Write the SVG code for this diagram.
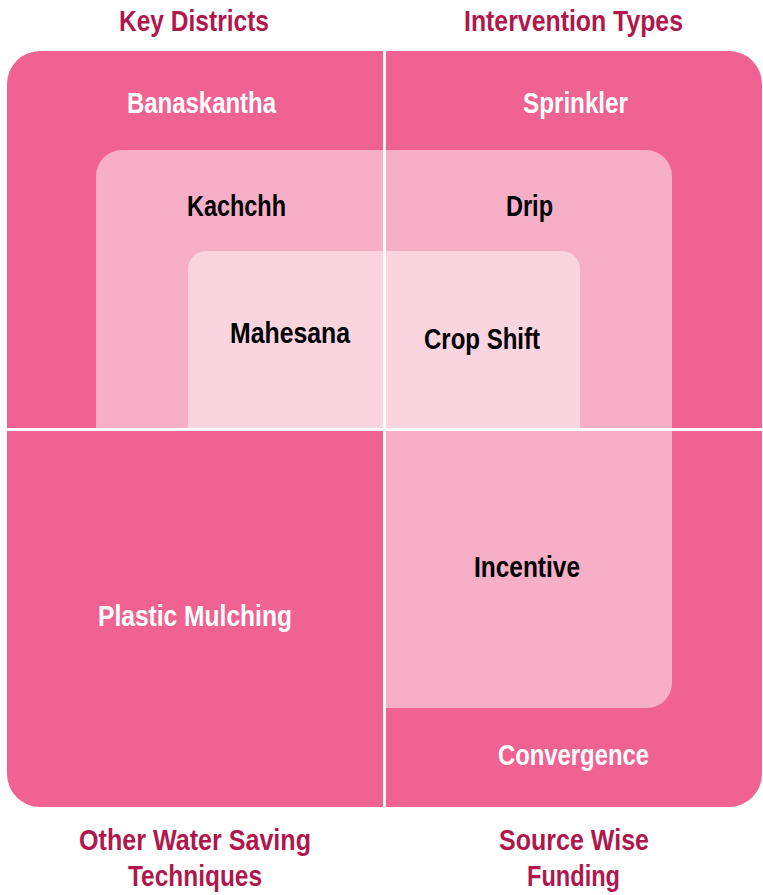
<svg xmlns="http://www.w3.org/2000/svg" width="763" height="895" viewBox="0 0 763 895">
  <style>
    text { font-family: "Liberation Sans", Arial, sans-serif; font-weight: bold; text-anchor: middle; }
    .title { fill: #b0174d; font-size: 30px; }
    .w { fill: #ffffff; font-size: 29px; }
    .b { fill: #000000; font-size: 29px; }
    .outer { fill: #f06292; }
    .mid { fill: #f7aec7; }
    .inner { fill: #fad5e0; }
    .div { stroke: #ffffff; stroke-width: 3; fill: none; }
  </style>
  <rect width="763" height="895" fill="#ffffff"/>
  <g id="outer-region">
    <rect class="outer" x="7" y="51" width="755" height="756" rx="33" ry="33"/>
  </g>
  <g id="middle-region">
    <path class="mid" d="M96,429 V176 A26,26 0 0 1 122,150 H646 A26,26 0 0 1 672,176 V683 A25,25 0 0 1 647,708 H384 V429 Z"/>
  </g>
  <g id="inner-region">
    <path class="inner" d="M188,429 V269 A18,18 0 0 1 206,251 H562 A18,18 0 0 1 580,269 V429 Z"/>
  </g>
  <g id="connectors">
    <line class="div" x1="384.5" y1="51" x2="384.5" y2="807"/>
    <line class="div" x1="7" y1="429.5" x2="762" y2="429.5"/>
  </g>
  <g id="titles">
    <text class="title" x="194" y="31" textLength="150" lengthAdjust="spacingAndGlyphs">Key Districts</text>
    <text class="title" x="573.5" y="31" textLength="219" lengthAdjust="spacingAndGlyphs">Intervention Types</text>
    <text class="title" x="195" y="850" textLength="232" lengthAdjust="spacingAndGlyphs">Other Water Saving</text>
    <text class="title" x="195" y="886" textLength="134" lengthAdjust="spacingAndGlyphs">Techniques</text>
    <text class="title" x="574" y="850" textLength="150" lengthAdjust="spacingAndGlyphs">Source Wise</text>
    <text class="title" x="573.5" y="886" textLength="93" lengthAdjust="spacingAndGlyphs">Funding</text>
  </g>
  <g id="node-banaskantha"><text class="w" x="201.5" y="113" textLength="149" lengthAdjust="spacingAndGlyphs">Banaskantha</text></g>
  <g id="node-sprinkler"><text class="w" x="575.5" y="113" textLength="105" lengthAdjust="spacingAndGlyphs">Sprinkler</text></g>
  <g id="node-kachchh"><text class="b" x="236.5" y="216" textLength="99" lengthAdjust="spacingAndGlyphs">Kachchh</text></g>
  <g id="node-drip"><text class="b" x="529.5" y="216" textLength="47" lengthAdjust="spacingAndGlyphs">Drip</text></g>
  <g id="node-mahesana"><text class="b" x="290" y="343" textLength="120" lengthAdjust="spacingAndGlyphs">Mahesana</text></g>
  <g id="node-cropshift"><text class="b" x="482" y="349" textLength="116" lengthAdjust="spacingAndGlyphs">Crop Shift</text></g>
  <g id="node-plasticmulching"><text class="w" x="195" y="626" textLength="194" lengthAdjust="spacingAndGlyphs">Plastic Mulching</text></g>
  <g id="node-incentive"><text class="b" x="527" y="577" textLength="106" lengthAdjust="spacingAndGlyphs">Incentive</text></g>
  <g id="node-convergence"><text class="w" x="573.5" y="765" textLength="151" lengthAdjust="spacingAndGlyphs">Convergence</text></g>
</svg>
